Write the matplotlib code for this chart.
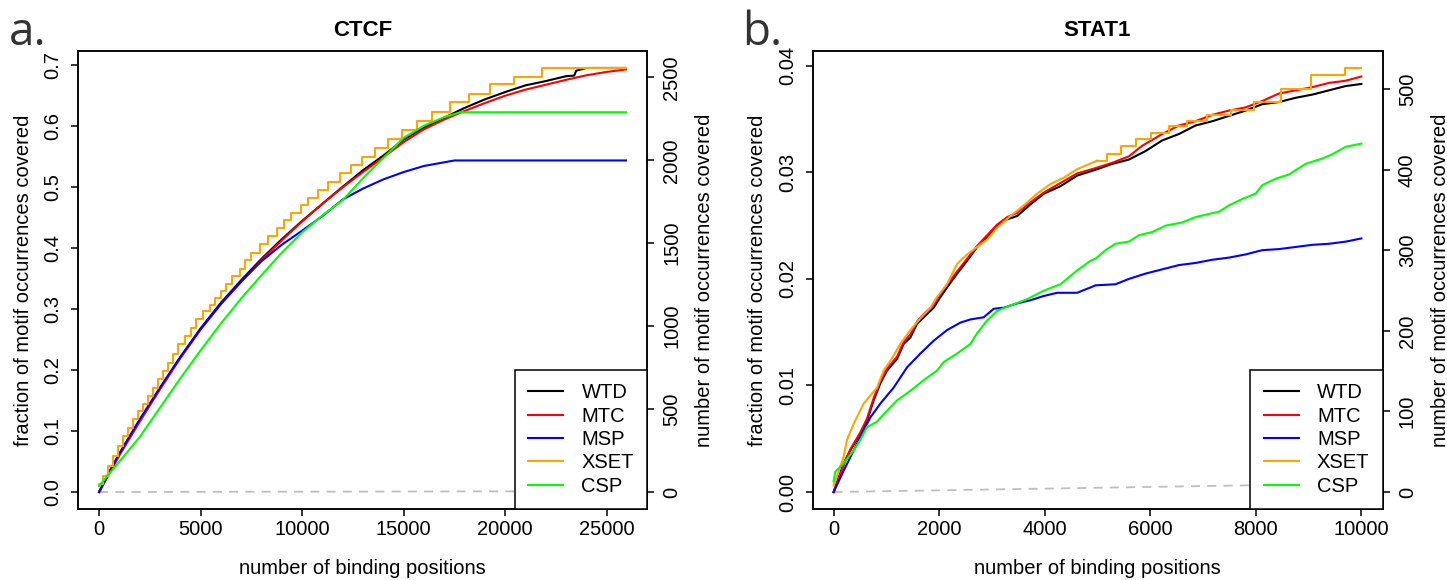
import matplotlib.pyplot as plt
from matplotlib.ticker import MultipleLocator

plt.rcParams['font.family'] = ['Liberation Sans', 'DejaVu Sans']

# ---- panel a: CTCF (fraction of motif occurrences covered) ----
ctcf_total = 3681
ctcf_wtd_x = [0, 500, 1000, 2000, 3000, 4000, 5000, 6000, 7000, 8000, 9000, 10000, 11000, 12000,
              13000, 14000, 15000, 16000, 17000, 18000, 19000, 20000, 21000, 22000, 23000, 23400,
              23500, 24000, 25000, 25950]
ctcf_wtd_y = [0, 0.032, 0.063, 0.118, 0.170, 0.221, 0.268, 0.310, 0.347, 0.382, 0.414, 0.444, 0.472,
              0.500, 0.527, 0.551, 0.577, 0.597, 0.613, 0.629, 0.643, 0.655, 0.666, 0.673, 0.681,
              0.682, 0.690, 0.6945, 0.6945, 0.6945]
ctcf_mtc_x = [0, 500, 1000, 2000, 3000, 4000, 5000, 6000, 7000, 8000, 9000, 10000, 11000, 12000,
              13000, 14000, 15000, 16000, 17000, 18000, 19000, 20000, 21000, 22000, 23000, 24000,
              25000, 25950]
ctcf_mtc_y = [0, 0.030, 0.060, 0.115, 0.168, 0.219, 0.266, 0.308, 0.344, 0.380, 0.412, 0.443, 0.472,
              0.499, 0.524, 0.548, 0.573, 0.594, 0.610, 0.624, 0.637, 0.649, 0.659, 0.667, 0.675,
              0.6825, 0.688, 0.692]
ctcf_msp_x = [0, 500, 1000, 2000, 3000, 4000, 5000, 6000, 7000, 8000, 9000, 10000, 11000, 12000,
              13000, 14000, 15000, 16000, 17000, 17500, 25950]
ctcf_msp_y = [0, 0.033, 0.063, 0.119, 0.171, 0.221, 0.267, 0.308, 0.345, 0.378, 0.405, 0.428, 0.452,
              0.479, 0.497, 0.512, 0.524, 0.534, 0.540, 0.543, 0.543]
ctcf_xset_x = [0, 211, 457, 703, 949, 1195, 1440, 1686, 1932, 2178, 2424, 2670, 2915, 3161, 3407,
               3653, 3899, 4228, 4552, 4798, 5128, 5457, 5703, 6028, 6273, 6554, 6932, 7178, 7503,
               7915, 8324, 8781, 9110, 9469, 9931, 10290, 10782, 11273, 11849, 12389, 12960, 13585,
               14240, 14896, 15666, 16420, 17272, 18223, 19239, 20435, 21829, 25950]
ctcf_xset_y = [0.0126, 0.0262, 0.0426, 0.0589, 0.0753, 0.0917, 0.1053, 0.1189, 0.1326, 0.1435,
               0.1571, 0.1708, 0.1844, 0.198, 0.2117, 0.2253, 0.2417, 0.2553, 0.269, 0.2826, 0.2962,
               0.3071, 0.318, 0.330, 0.3399, 0.3535, 0.366, 0.3792, 0.3917, 0.4054, 0.419, 0.4326,
               0.4463, 0.4571, 0.4697, 0.4817, 0.4954, 0.5079, 0.5226, 0.5352, 0.5488, 0.5635,
               0.5788, 0.5936, 0.6083, 0.6219, 0.6388, 0.6525, 0.6683, 0.6803, 0.6945, 0.6945]
ctcf_csp_x = [0, 500, 1000, 2000, 3000, 4000, 5000, 6000, 7000, 8000, 9000, 10000, 11000, 12000,
              13000, 14000, 15000, 16000, 17000, 17800, 25950]
ctcf_csp_y = [0.010, 0.030, 0.050, 0.090, 0.138, 0.186, 0.232, 0.276, 0.317, 0.355, 0.392, 0.425,
              0.453, 0.478, 0.514, 0.547, 0.580, 0.600, 0.614, 0.622, 0.622]
ctcf_rand_x = [0, 25950]
ctcf_rand_y = [0, 0.0015]

# ---- panel b: STAT1 ----
stat1_total = 13230
stat1_wtd_x = [0, 190, 316, 506, 633, 758, 885, 1012, 1202, 1327, 1454, 1581, 1707, 1896, 2023,
               2150, 2340, 2529, 2719, 2909, 3098, 3288, 3477, 3730, 3982, 4298, 4615, 4994, 5278,
               5594, 5910, 6226, 6542, 6858, 7174, 7490, 7806, 8122, 8438, 8754, 9070, 9386, 9702,
               10000]
stat1_wtd_y = [0, .0027, .0039, .0055, .0067, .0086, .0102, .0114, .0125, .0139, .0145, .0158,
               .0164, .0173, .0183, .0192, .0205, .0217, .0230, .0239, .0250, .0256, .0259, .0270,
               .0280, .0287, .0297, .0303, .0308, .0312, .0320, .0330, .0336, .0344, .0348, .0353,
               .0358, .0364, .0366, .0370, .0373, .0377, .0381, .0383]
stat1_mtc_x = [0, 190, 316, 506, 633, 758, 885, 1012, 1202, 1327, 1454, 1581, 1707, 1896, 2023,
               2150, 2340, 2529, 2719, 2909, 3098, 3288, 3476, 3729, 3982, 4298, 4614, 4962, 5278,
               5594, 5847, 6226, 6542, 6858, 7174, 7490, 7806, 8122, 8438, 8754, 9070, 9386, 9702,
               10000]
stat1_mtc_y = [0, .0025, .0040, .0056, .0069, .0088, .0104, .0116, .0127, .0141, .0148, .0160,
               .0167, .0176, .0186, .0195, .0207, .0219, .0231, .0241, .0251, .0258, .0262, .0272,
               .0281, .0290, .0299, .0304, .0309, .0315, .0325, .0336, .0344, .0348, .0354, .0358,
               .0361, .0367, .0374, .0377, .0380, .0384, .0386, .0390]
stat1_msp_x = [0, 190, 380, 506, 696, 885, 1138, 1391, 1644, 1896, 2149, 2402, 2592, 2844, 3034,
               3224, 3476, 3729, 3982, 4235, 4614, 4867, 4962, 5341, 5594, 5910, 6226, 6542, 6858,
               7174, 7490, 7806, 8122, 8438, 8754, 9070, 9386, 9702, 10000]
stat1_msp_y = [0, .0020, .0039, .0052, .0070, .0083, .0098, .0117, .0130, .0142, .0152, .0159,
               .0162, .0164, .0172, .0173, .0177, .0180, .0184, .0187, .0187, .0192, .0194, .0195,
               .0200, .0205, .0209, .0213, .0215, .0218, .0220, .0223, .0227, .0228, .0230, .0232,
               .0233, .0235, .0238]
stat1_xset_x = [0, 190, 253, 380, 569, 822, 948, 1075, 1264, 1454, 1644, 1833, 1960, 2149, 2339,
                2528, 2718, 2908, 3097, 3350, 3603, 3856, 4108, 4361, 4614, 4993, 5183, 5436, 5720,
                6005, 6352, 6700, 7079, 7522, 7964, 8470, 9038, 9689, 10000]
stat1_xset_y = [.0006, .0033, .0049, .0064, .0083, .0098, .0114, .0123, .0139, .0152, .0163, .0173,
                .0183, .0195, .0214, .0223, .0230, .0237, .0248, .0259, .0269, .0280, .0289, .0295,
                .0303, .0311, .0317, .0325, .0331, .0337, .0344, .0348, .0354, .0359, .0366, .0378,
                .0391, .0398, .0398]
stat1_csp_x = [0, 32, 190, 380, 506, 632, 822, 948, 1201, 1454, 1707, 1960, 2086, 2339, 2592, 2718,
               2908, 3097, 3350, 3666, 3982, 4298, 4614, 4867, 4962, 5152, 5341, 5594, 5784, 6036,
               6289, 6605, 6858, 7111, 7300, 7490, 7743, 7996, 8122, 8375, 8628, 8944, 9260, 9449,
               9702, 10000]
stat1_csp_y = [.0010, .0019, .0027, .0039, .0049, .0061, .0066, .0073, .0086, .0095, .0105, .0114,
               .0122, .0130, .0139, .0149, .0161, .0170, .0175, .0181, .0189, .0195, .0208, .0217,
               .0219, .0227, .0233, .0235, .0241, .0244, .0250, .0253, .0258, .0261, .0263, .0269,
               .0275, .0280, .0288, .0294, .0298, .0308, .0313, .0317, .0324, .0327]
stat1_rand_x = [0, 10000]
stat1_rand_y = [0, 0.0008]

methods = ['WTD', 'MTC', 'MSP', 'XSET', 'CSP']
colors = ['black', '#ff0000', '#0000ff', '#ffa500', '#00ff00']

FS = 14.5
LW = 1.5

fig = plt.figure(figsize=(14.47, 5.8), dpi=100)


def draw_panel(rect, title, series, rand, total, xticks, yticks, step_from):
    ax = fig.add_axes(rect)
    ax.plot(rand[0], rand[1], color='#bebebe', lw=1.3, ls=(0, (5, 4)))
    handles = []
    for name, col, (xs, ys) in zip(methods, colors, series):
        if name == 'XSET':
            if step_from > 0:
                ax.plot(xs[:step_from + 1], ys[:step_from + 1], color=col, lw=LW)
            h, = ax.step(xs[step_from:], ys[step_from:], where='post', color=col, lw=LW)
        else:
            h, = ax.plot(xs, ys, color=col, lw=LW)
        handles.append(h)
    ax.margins(0.04)
    ax.set_xticks(xticks)
    ax.set_yticks(yticks)
    ax.tick_params(direction='out', length=5, width=1.1, labelsize=FS)
    ax.tick_params(axis='x', pad=3)
    ax.tick_params(axis='y', labelrotation=90, pad=6)
    for t in ax.get_yticklabels():
        t.set_va('center')
    for s in ax.spines.values():
        s.set_linewidth(1.1)
    ax.set_title(title, fontweight='bold', fontsize=16, pad=11)
    ax.set_xlabel('number of binding positions', fontsize=FS, labelpad=14)
    ax.set_ylabel('fraction of motif occurrences covered', fontsize=FS, labelpad=8)

    ax2 = ax.twinx()
    lo, hi = ax.get_ylim()
    ax2.set_ylim(lo * total, hi * total)
    ax2.yaxis.set_major_locator(MultipleLocator(500 if total < 5000 else 100))
    ax2.tick_params(direction='out', length=5, width=1.1, labelsize=FS, labelrotation=90, pad=6)
    for t in ax2.get_yticklabels():
        t.set_va('center')
    for s in ax2.spines.values():
        s.set_linewidth(1.1)
    ax2.set_ylabel('number of motif occurrences covered', fontsize=FS, labelpad=10)

    leg = ax2.legend(handles, methods, loc='lower right', borderaxespad=0, fancybox=False,
                     edgecolor='black', framealpha=1, fontsize=FS, handlelength=1.75,
                     handletextpad=0.9, labelspacing=0.22, borderpad=0.65)
    leg.get_frame().set_linewidth(1.1)
    return ax


draw_panel([78 / 1447, 71 / 580, 569 / 1447, 458 / 580], 'CTCF',
           [(ctcf_wtd_x, ctcf_wtd_y), (ctcf_mtc_x, ctcf_mtc_y), (ctcf_msp_x, ctcf_msp_y),
            (ctcf_xset_x, ctcf_xset_y), (ctcf_csp_x, ctcf_csp_y)],
           (ctcf_rand_x, ctcf_rand_y), ctcf_total,
           [0, 5000, 10000, 15000, 20000, 25000], [0, 0.1, 0.2, 0.3, 0.4, 0.5, 0.6, 0.7], 0)

draw_panel([812.5 / 1447, 71 / 580, 570 / 1447, 458 / 580], 'STAT1',
           [(stat1_wtd_x, stat1_wtd_y), (stat1_mtc_x, stat1_mtc_y), (stat1_msp_x, stat1_msp_y),
            (stat1_xset_x, stat1_xset_y), (stat1_csp_x, stat1_csp_y)],
           (stat1_rand_x, stat1_rand_y), stat1_total,
           [0, 2000, 4000, 6000, 8000, 10000], [0, 0.01, 0.02, 0.03, 0.04], 25)

fig.text(9 / 1447, 1 - 45 / 580, 'a.', fontsize=33, family='Open Sans', color='#333333', va='baseline')
fig.text(742 / 1447, 1 - 45 / 580, 'b.', fontsize=33, family='Open Sans', color='#333333', va='baseline')

fig.savefig('out.png', dpi=100)
